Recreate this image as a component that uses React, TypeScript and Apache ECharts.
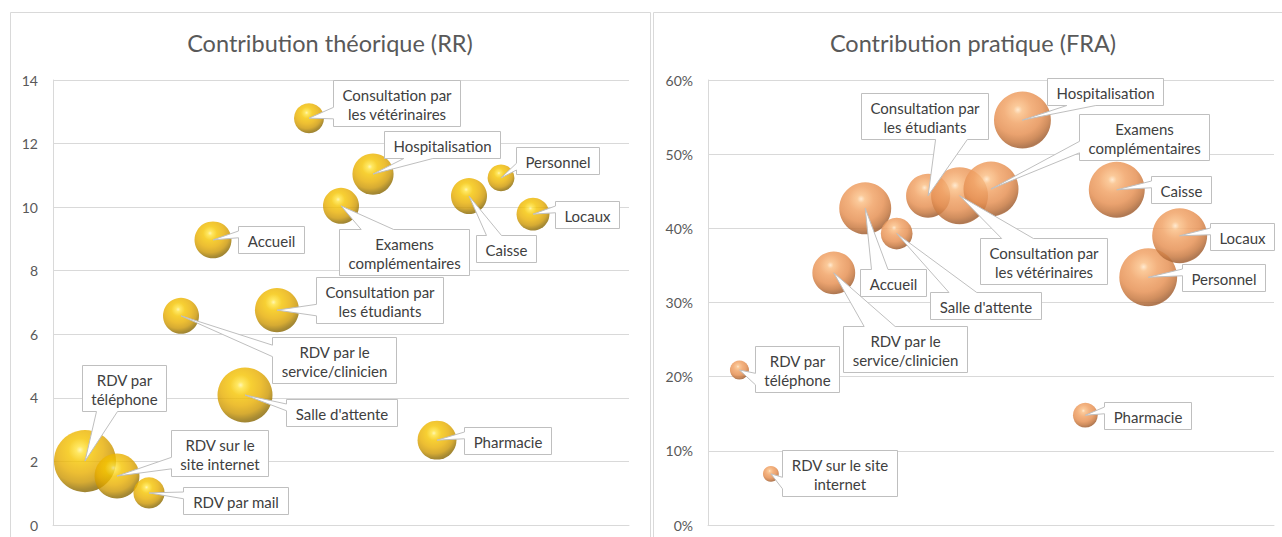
import React, { useEffect, useRef } from 'react';
import * as echarts from 'echarts';

// ---------- data: left chart (Contribution théorique, RR) ----------
const leftX = [1, 2, 3, 4, 5, 6, 7, 8, 9, 10, 12, 13, 14, 15];
const leftLabels = [
  'RDV par\ntéléphone',
  'RDV sur le\nsite internet',
  'RDV par mail',
  'RDV par le\nservice/clinicien',
  'Accueil',
  "Salle d'attente",
  'Consultation par\nles étudiants',
  'Consultation par\nles vétérinaires',
  'Examens\ncomplémentaires',
  'Hospitalisation',
  'Pharmacie',
  'Caisse',
  'Personnel',
  'Locaux',
];
const rrValues = [2.01, 1.54, 1.01, 6.58, 8.97, 4.09, 6.76, 12.8, 10.04, 11.04, 2.67, 10.35, 10.92, 9.78];
const rrSizes = [107, 56, 27, 36, 38, 84, 54, 25, 36, 47, 42, 36, 20, 30];

// ---------- data: right chart (Contribution pratique, FRA) ----------
const rightX = [1, 2, 4, 5, 6, 7, 8, 9, 10, 12, 13, 14, 15];
const rightLabels = [
  'RDV par\ntéléphone',
  'RDV sur le site\ninternet',
  'RDV par le\nservice/clinicien',
  'Accueil',
  "Salle d'attente",
  'Consultation par\nles étudiants',
  'Consultation par\nles vétérinaires',
  'Examens\ncomplémentaires',
  'Hospitalisation',
  'Pharmacie',
  'Caisse',
  'Personnel',
  'Locaux',
];
const fraValues = [0.209, 0.069, 0.34, 0.427, 0.393, 0.444, 0.444, 0.453, 0.546, 0.148, 0.452, 0.334, 0.39];
const fraSizes = [10, 7, 51, 75, 28, 54, 90, 84, 90, 17, 87, 93, 84];

const leftTicks = { min: 0, max: 14, interval: 2 };
const rightTicks = { min: 0, max: 0.6, interval: 0.1 };

// ---------- layout (callout box offsets from bubble centre, px) ----------
const leftCalloutOffsets = [
  [39, -73], [102, -23], [86, 8], [153, 44], [58, 0], [96, 18], [102, -10],
  [87, -15], [63, 46], [69, -30], [70, 0], [37, 52], [56, -17], [54, 0],
];
const rightCalloutOffsets = [
  [58, -1], [69, -1], [71, 76], [28, 74], [89, 72], [-4, -80], [84, 65],
  [153, -52], [83, -29], [62, 0], [64, 0], [75, 0], [62, 1],
];

const FONT = 'Lato';
const LABEL_SIZE = 15;
const LH = 19;

let measureCtx: CanvasRenderingContext2D | null = null;
function measure(s: string) {
  if (!measureCtx) measureCtx = document.createElement('canvas').getContext('2d');
  measureCtx!.font = `${LABEL_SIZE}px ${FONT}`;
  return measureCtx!.measureText(s).width;
}

function makeRenderItem(labels: string[], offsets: number[][]) {
  return (params: any, api: any) => {
    const i = params.dataIndex;
    const p = api.coord([api.value(0), api.value(1)]);
    const tx = p[0];
    const ty = p[1];
    const lines = labels[i].split('\n');
    const tw = Math.max(...lines.map((l) => measure(l)));
    const w = Math.round(tw + 18);
    const h = Math.round(lines.length * LH + 8);
    const cx = tx + offsets[i][0];
    const cy = ty + offsets[i][1];
    const x0 = Math.round(cx - w / 2) + 0.5;
    const y0 = Math.round(cy - h / 2) + 0.5;
    const x1 = x0 + w;
    const y1 = y0 + h;
    const dx = tx - (x0 + w / 2);
    const dy = ty - (y0 + h / 2);
    let pts: number[][];
    if (Math.abs(dy) / h > Math.abs(dx) / w) {
      const a = x0 + (w * (dx > 0 ? 7 : 2)) / 12;
      const b = x0 + (w * (dx > 0 ? 10 : 5)) / 12;
      if (dy < 0) pts = [[x0, y0], [a, y0], [tx, ty], [b, y0], [x1, y0], [x1, y1], [x0, y1]];
      else pts = [[x0, y0], [x1, y0], [x1, y1], [b, y1], [tx, ty], [a, y1], [x0, y1]];
    } else {
      const a = y0 + (h * (dy > 0 ? 7 : 2)) / 12;
      const b = y0 + (h * (dy > 0 ? 10 : 5)) / 12;
      if (dx < 0) pts = [[x0, y0], [x1, y0], [x1, y1], [x0, y1], [x0, b], [tx, ty], [x0, a]];
      else pts = [[x0, y0], [x1, y0], [x1, a], [tx, ty], [x1, b], [x1, y1], [x0, y1]];
    }
    return {
      type: 'group',
      children: [
        {
          type: 'polygon',
          shape: { points: pts },
          style: { fill: '#ffffff', stroke: '#BFBFBF', lineWidth: 1 },
        },
        {
          type: 'text',
          x: x0 + w / 2,
          y: y0 + h / 2 + 0.5,
          style: {
            text: labels[i],
            fill: '#404040',
            fontSize: LABEL_SIZE,
            fontFamily: FONT,
            align: 'center',
            verticalAlign: 'middle',
            lineHeight: LH,
          },
        },
      ],
    };
  };
}

const goldGradient = () =>
  new echarts.graphic.RadialGradient(0.42, 0.32, 0.75, [
    { offset: 0, color: '#FFF3A0' },
    { offset: 0.08, color: '#FFE23A' },
    { offset: 0.25, color: '#F5C400' },
    { offset: 0.5, color: '#E8AE00' },
    { offset: 0.7, color: '#CC9600' },
    { offset: 0.85, color: '#957000' },
    { offset: 0.95, color: '#806000' },
    { offset: 1, color: '#C09A00' },
  ]);

const peachGradient = () =>
  new echarts.graphic.RadialGradient(0.42, 0.32, 0.75, [
    { offset: 0, color: '#FFE6C8' },
    { offset: 0.1, color: '#FAC088' },
    { offset: 0.32, color: '#F1A468' },
    { offset: 0.58, color: '#E69256' },
    { offset: 0.76, color: '#C87A42' },
    { offset: 0.9, color: '#A06034' },
    { offset: 1, color: '#E6A070' },
  ]);

const axisLabelStyle = { color: '#595959', fontFamily: FONT, fontSize: 14 };
const gridLine = { lineStyle: { color: '#D9D9D9', width: 1 } };

export default function App() {
  const ref = useRef<HTMLDivElement>(null);
  useEffect(() => {
    if (!ref.current) return;
    const chart = echarts.init(ref.current, undefined, { renderer: 'svg' });
    const leftData = leftX.map((x, i) => [x, rrValues[i], rrSizes[i], leftLabels[i]]);
    const rightData = rightX.map((x, i) => [x, fraValues[i], fraSizes[i], rightLabels[i]]);
    chart.setOption({
      animation: false,
      backgroundColor: '#ffffff',
      graphic: [
        { type: 'rect', z: -10, shape: { x: 10.5, y: 12.5, width: 640, height: 600 }, style: { fill: 'none', stroke: '#D9D9D9', lineWidth: 1 } },
        { type: 'rect', z: -10, shape: { x: 653.5, y: 12.5, width: 700, height: 600 }, style: { fill: 'none', stroke: '#D9D9D9', lineWidth: 1 } },
        { type: 'text', x: 330, y: 43, style: { text: 'Contribution théorique (RR)', align: 'center', verticalAlign: 'middle', fill: '#595959', fontFamily: FONT, fontSize: 23.5 } },
        { type: 'text', x: 973, y: 43, style: { text: 'Contribution pratique (FRA)', align: 'center', verticalAlign: 'middle', fill: '#595959', fontFamily: FONT, fontSize: 23.5 } },
      ],
      grid: [
        { left: 53, top: 80, width: 576, height: 445 },
        { left: 708, top: 80, width: 566, height: 445 },
      ],
      xAxis: [0, 1].map((g) => ({
        type: 'value',
        gridIndex: g,
        min: 0,
        max: 18,
        axisLine: { show: true, lineStyle: { color: '#D9D9D9' } },
        axisTick: { show: false },
        axisLabel: { show: false },
        splitLine: { show: false },
      })),
      yAxis: [
        {
          type: 'value',
          gridIndex: 0,
          ...leftTicks,
          axisLine: { show: true, lineStyle: { color: '#D9D9D9' } },
          axisTick: { show: false },
          axisLabel: { ...axisLabelStyle, margin: 15 },
          splitLine: gridLine,
        },
        {
          type: 'value',
          gridIndex: 1,
          ...rightTicks,
          axisLine: { show: true, lineStyle: { color: '#D9D9D9' } },
          axisTick: { show: false },
          axisLabel: { ...axisLabelStyle, margin: 15, formatter: (v: number) => `${Math.round(v * 100)}%` },
          splitLine: gridLine,
        },
      ],
      series: [
        {
          type: 'scatter',
          xAxisIndex: 0,
          yAxisIndex: 0,
          data: leftData,
          symbolSize: (v: any) => 6 * Math.sqrt(v[2]),
          itemStyle: { color: goldGradient() },
          z: 2,
        },
        {
          type: 'scatter',
          xAxisIndex: 1,
          yAxisIndex: 1,
          data: rightData,
          symbolSize: (v: any) => 6 * Math.sqrt(v[2]),
          itemStyle: { color: peachGradient(), opacity: 0.85 },
          z: 2,
        },
        {
          type: 'custom',
          xAxisIndex: 0,
          yAxisIndex: 0,
          clip: false,
          z: 5,
          data: leftData.map((d) => [d[0], d[1]]),
          encode: { x: 0, y: 1 },
          renderItem: makeRenderItem(leftLabels, leftCalloutOffsets),
        },
        {
          type: 'custom',
          xAxisIndex: 1,
          yAxisIndex: 1,
          clip: false,
          z: 5,
          data: rightData.map((d) => [d[0], d[1]]),
          encode: { x: 0, y: 1 },
          renderItem: makeRenderItem(rightLabels, rightCalloutOffsets),
        },
      ],
    });
    return () => chart.dispose();
  }, []);
  return <div ref={ref} style={{ position: 'fixed', left: 0, top: 0, width: 1282, height: 537 }} />;
}
